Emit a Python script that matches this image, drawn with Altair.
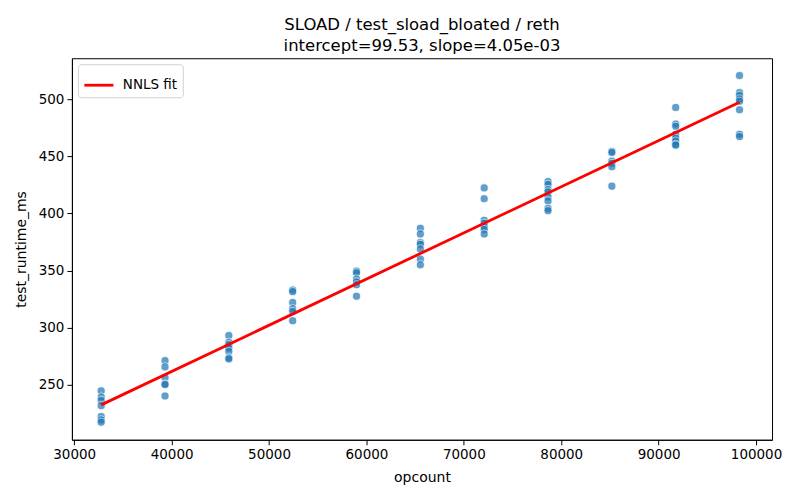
import altair as alt
import pandas as pd

opcounts = [32768, 39322, 45875, 52429, 58982, 65536, 72090, 78643, 85197, 91750, 98304]
runtimes = [
    [244.5, 239, 236, 231.5, 222, 219, 217],
    [271, 265.5, 256, 250.5, 250, 240],
    [293, 287, 285, 282, 279, 273.5, 272.5],
    [333, 331.5, 322, 316.5, 314, 306],
    [349.5, 348, 342.5, 340, 337.5, 327.5],
    [387, 382, 374.5, 373, 369, 360, 355],
    [422.5, 413, 394, 391.5, 388.5, 386, 382],
    [428, 425.5, 421, 419, 414.5, 411, 404.5, 402.5],
    [454.5, 453.5, 446, 444, 441, 424],
    [493, 478.5, 476.5, 469.5, 466, 463.5, 460.5, 460],
    [521, 506, 503.5, 500.5, 498.5, 491, 469.5, 467.5],
]
fit_x = [32768, 98304]
fit_y = [232.2, 497.7]
fit_label = "NNLS fit"
title_lines = ["SLOAD / test_sload_bloated / reth", "intercept=99.53, slope=4.05e-03"]

rows = []
for x, ys in zip(opcounts, runtimes):
    for y in ys:
        rows.append({"opcount": x, "test_runtime_ms": y})
pts = pd.DataFrame(rows)
fit = pd.DataFrame({"opcount": fit_x, "test_runtime_ms": fit_y, "series": [fit_label] * 2})

FONT = "DejaVu Sans"
xscale = alt.Scale(domain=[29764, 101640], nice=False, zero=False)
yscale = alt.Scale(domain=[201.6, 536.2], nice=False, zero=False)
xaxis = alt.Axis(values=[30000, 40000, 50000, 60000, 70000, 80000, 90000, 100000], format="d",
                 title="opcount", grid=False)
yaxis = alt.Axis(values=[250, 300, 350, 400, 450, 500], format="d", title="test_runtime_ms", grid=False)

scatter = alt.Chart(pts).mark_point(
    filled=True, shape="circle", size=66, color="#1f77b4", opacity=0.7,
    stroke="white", strokeWidth=0.8, strokeOpacity=1
).encode(
    x=alt.X("opcount:Q", scale=xscale, axis=xaxis),
    y=alt.Y("test_runtime_ms:Q", scale=yscale, axis=yaxis),
)

line = alt.Chart(fit).mark_line(strokeWidth=2.8).encode(
    x=alt.X("opcount:Q", scale=xscale),
    y=alt.Y("test_runtime_ms:Q", scale=yscale),
    color=alt.Color("series:N", scale=alt.Scale(domain=[fit_label], range=["red"]),
                    legend=alt.Legend(title=None, orient="top-left", symbolType="stroke",
                                      symbolStrokeWidth=2.8, symbolSize=850, labelFontSize=13.5,
                                      labelFont=FONT, fillColor="white", strokeColor="#d0d0d0",
                                      padding=5, cornerRadius=3, offset=6, labelOffset=8)),
)

chart = alt.layer(scatter, line).properties(
    width=701, height=382,
    title=alt.TitleParams(text=title_lines, fontSize=16.5, font=FONT, fontWeight="normal",
                          anchor="middle", color="black", lineHeight=21, offset=4),
    autosize=alt.AutoSizeParams(type="none"),
    padding={"left": 64, "top": 50, "right": 20, "bottom": 50},
).configure_view(stroke="black", strokeWidth=1).configure_axis(
    domainColor="black", tickColor="black", tickSize=5, labelFontSize=13.5, titleFontSize=14,
    labelFont=FONT, titleFont=FONT, titleFontWeight="normal", labelColor="black", titleColor="black",
    labelPadding=3, domain=True
).configure_axisY(titlePadding=10).configure_axisX(titlePadding=9)

chart.save("out.html", embed_options={"renderer": "svg", "actions": False})
